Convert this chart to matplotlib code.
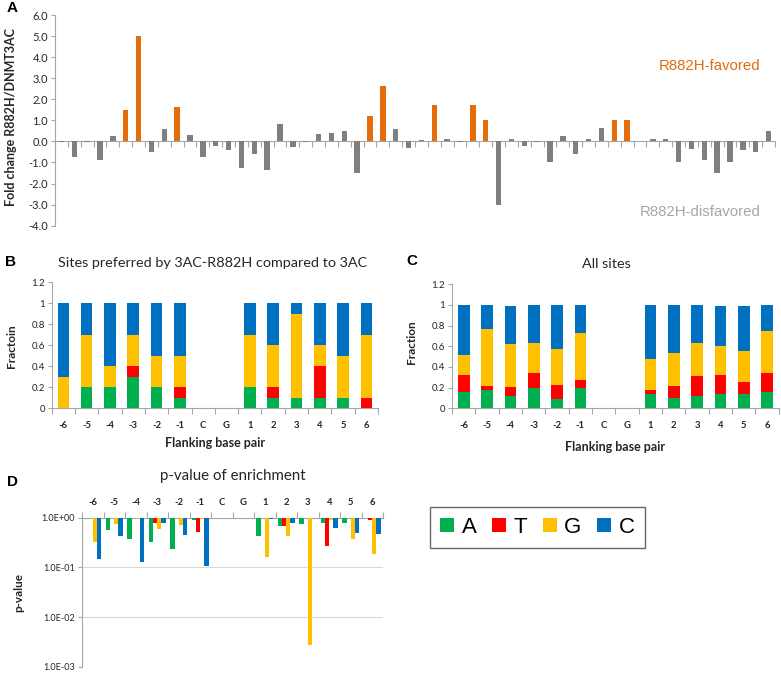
import numpy as np
import matplotlib
matplotlib.use('Agg')
import matplotlib.pyplot as plt
from matplotlib.patches import Patch

# ---------------- data ----------------
# Panel A: fold change R882H / DNMT3AC for 56 flanking sequences
fold_change = [-0.03, -0.75, -0.02, -0.87, 0.25, 1.5, 5.0, -0.5, 0.6, 1.65,
               0.3, -0.73, -0.2, -0.4, -1.25, -0.6, -1.35, 0.85, -0.25, -0.03,
               0.37, 0.4, 0.5, -1.5, 1.2, 2.65, 0.6, -0.32, 0.06, 1.72,
               0.13, -0.03, 1.72, 1.0, -3.0, 0.13, -0.2, -0.03, -1.0, 0.25,
               -0.6, 0.13, 0.65, 1.0, 1.0, 0.0, 0.13, 0.13, -1.0, -0.38,
               -0.87, -1.5, -1.0, -0.4, -0.5, 0.5]
favored = [0, 0, 0, 0, 0, 1, 1, 0, 0, 1,
           0, 0, 0, 0, 0, 0, 0, 0, 0, 0,
           0, 0, 0, 0, 1, 1, 0, 0, 0, 1,
           0, 0, 1, 1, 0, 0, 0, 0, 0, 0,
           0, 0, 0, 1, 1, 0, 0, 0, 0, 0,
           0, 0, 0, 0, 0, 0]
yticksA = [-4.0, -3.0, -2.0, -1.0, 0.0, 1.0, 2.0, 3.0, 4.0, 5.0, 6.0]

positions = ['-6', '-5', '-4', '-3', '-2', '-1', 'C', 'G', '1', '2', '3', '4', '5', '6']
bases = ['A', 'T', 'G', 'C']

# Panel B: sites preferred by 3AC-R882H
B_A = [0.0, 0.2, 0.2, 0.3, 0.2, 0.1, 0, 0, 0.2, 0.1, 0.1, 0.1, 0.1, 0.0]
B_T = [0.0, 0.0, 0.0, 0.1, 0.0, 0.1, 0, 0, 0.0, 0.1, 0.0, 0.3, 0.0, 0.1]
B_G = [0.3, 0.5, 0.2, 0.3, 0.3, 0.3, 0, 0, 0.5, 0.4, 0.8, 0.2, 0.4, 0.6]
B_C = [0.7, 0.3, 0.6, 0.3, 0.5, 0.5, 0, 0, 0.3, 0.4, 0.1, 0.4, 0.5, 0.3]

# Panel C: all sites
C_A = [0.16, 0.18, 0.12, 0.20, 0.09, 0.20, 0, 0, 0.14, 0.10, 0.12, 0.14, 0.14, 0.16]
C_T = [0.16, 0.04, 0.09, 0.14, 0.14, 0.07, 0, 0, 0.04, 0.12, 0.19, 0.18, 0.11, 0.18]
C_G = [0.20, 0.55, 0.41, 0.29, 0.34, 0.46, 0, 0, 0.30, 0.32, 0.32, 0.28, 0.30, 0.41]
C_C = [0.48, 0.23, 0.37, 0.37, 0.43, 0.27, 0, 0, 0.52, 0.46, 0.37, 0.39, 0.44, 0.25]

# Panel D: p-value of enrichment (1.0 = no bar)
D_A = [1.0, 0.57, 0.37, 0.32, 0.23, 0.90, 1.0, 1.0, 0.43, 0.69, 0.76, 0.79, 0.79, 1.0]
D_T = [1.0, 1.0, 1.0, 0.79, 1.0, 0.52, 1.0, 1.0, 1.0, 0.69, 1.0, 0.27, 1.0, 0.88]
D_G = [0.32, 0.75, 0.94, 0.58, 0.72, 0.93, 1.0, 1.0, 0.16, 0.42, 0.0027, 0.90, 0.37, 0.19]
D_C = [0.15, 0.43, 0.13, 0.79, 0.44, 0.105, 1.0, 1.0, 0.95, 0.78, 1.0, 0.61, 0.49, 0.47]

# ---------------- style ----------------
base_colors = ['#00B050', '#FF0000', '#FFC000', '#0070C0']
ORANGE = '#E46C0A'
GRAY = '#7F7F7F'
AXC = '#A6A6A6'
TXT = '#262626'
CAL = ['Lato', 'DejaVu Sans']
ARI = ['Liberation Sans', 'DejaVu Sans']

W, H = 781, 677
fig = plt.figure(figsize=(W / 100, H / 100), dpi=100)


def ax_px(l, t, r, b):
    return fig.add_axes([l / W, 1 - b / H, (r - l) / W, (b - t) / H])


def style_ticks(ax):
    for lab in ax.get_xticklabels(which='both') + ax.get_yticklabels():
        lab.set_fontfamily(CAL)


# ---------------- Panel A ----------------
axA = ax_px(55, 15, 775, 225.7)
xA = np.arange(len(fold_change))
colA = [ORANGE if f else GRAY for f in favored]
axA.bar(xA, fold_change, width=0.42, color=colA, zorder=3)
axA.set_xlim(-0.5, len(fold_change) - 0.5)
axA.set_ylim(-4, 6)
for s in ['top', 'right']:
    axA.spines[s].set_visible(False)
axA.spines['bottom'].set_position(('data', 0))
axA.spines['bottom'].set_color(AXC)
axA.spines['left'].set_color(AXC)
axA.set_xticks(np.arange(-0.5, len(fold_change), 1.0))
axA.tick_params(axis='x', length=4, color=AXC, labelbottom=False, direction='out')
axA.set_yticks(yticksA)
axA.set_yticklabels(['%.1f' % v for v in yticksA])
axA.tick_params(axis='y', length=3, color=AXC, labelsize=8, labelcolor=TXT, pad=2)
style_ticks(axA)
axA.set_ylabel('Fold change R882H/DNMT3AC', fontsize=9, fontweight='bold',
               family=CAL, color=TXT)
axA.yaxis.set_label_coords(-0.053, 0.518)
fig.text(710 / W, 1 - 66 / H, 'R882H-favored', color=ORANGE, fontsize=10.8,
         family=ARI, ha='center', va='center')
fig.text(700 / W, 1 - 212 / H, 'R882H-disfavored', color='#A6A6A6', fontsize=10.8,
         family=ARI, ha='center', va='center')


# ---------------- Panels B & C ----------------
def stacked(ax, vals, ylabel, ylab_xy, xlab_y):
    x = np.arange(len(positions))
    bottom = np.zeros(len(positions))
    for v, c in zip(vals, base_colors):
        v = np.array(v, dtype=float)
        ax.bar(x, v, bottom=bottom, width=0.5, color=c, zorder=3)
        bottom += v
    ax.set_xlim(-0.5, len(positions) - 0.5)
    ax.set_ylim(0, 1.2)
    for s in ['top', 'right']:
        ax.spines[s].set_visible(False)
    ax.spines['bottom'].set_color(AXC)
    ax.spines['left'].set_color(AXC)
    ax.set_xticks(np.arange(-0.5, len(positions), 1.0))
    ax.set_xticks(x, minor=True)
    ax.set_xticklabels([''] * (len(positions) + 1))
    ax.set_xticklabels(positions, minor=True)
    ax.tick_params(axis='x', which='major', length=4, color=AXC)
    ax.tick_params(axis='x', which='minor', length=0, pad=9, labelsize=6.8)
    for lab in ax.get_xticklabels(minor=True):
        lab.set_fontweight('bold')
        lab.set_color(TXT)
    yt = [0, 0.2, 0.4, 0.6, 0.8, 1.0, 1.2]
    ax.set_yticks(yt)
    ax.set_yticklabels(['0', '0.2', '0.4', '0.6', '0.8', '1', '1.2'])
    ax.tick_params(axis='y', length=3, color=AXC, labelsize=7, labelcolor=TXT, pad=2)
    style_ticks(ax)
    ax.set_ylabel(ylabel, fontsize=8.5, fontweight='bold', family=CAL, color=TXT)
    ax.yaxis.set_label_coords(*ylab_xy)
    ax.set_xlabel('Flanking base pair', fontsize=9, fontweight='bold', family=CAL,
                  color=TXT)
    ax.xaxis.set_label_coords(0.5, xlab_y)


axB = ax_px(51.7, 282.3, 378, 408.3)
stacked(axB, [B_A, B_T, B_G, B_C], 'Fractoin', (-0.106, 0.49), -0.228)
fig.text(213 / W, 1 - 263 / H, 'Sites preferred by 3AC-R882H compared to 3AC',
         fontsize=10.4, family=CAL, ha='center', va='center', color=TXT)

axC = ax_px(452, 284.3, 778.7, 408.3)
stacked(axC, [C_A, C_T, C_G, C_C], 'Fraction', (-0.107, 0.537), -0.264)
fig.text(606 / W, 1 - 264 / H, 'All sites', fontsize=10.4, family=CAL,
         ha='center', va='center', color=TXT)

# ---------------- Panel D ----------------
axD = ax_px(82, 517.7, 383, 666.7)
xD = np.arange(len(positions))
wD = 0.195
for k, (v, c) in enumerate(zip([D_A, D_T, D_G, D_C], base_colors)):
    v = np.array(v, dtype=float)
    axD.bar(xD + (k - 1.5) * wD, v - 1.0, bottom=1.0, width=wD, color=c, zorder=3)
axD.set_yscale('log')
axD.set_ylim(1e-3, 1)
axD.set_xlim(-0.5, len(positions) - 0.5)
for s in ['bottom', 'right']:
    axD.spines[s].set_visible(False)
axD.spines['top'].set_color(AXC)
axD.spines['left'].set_color(AXC)
axD.xaxis.tick_top()
axD.set_xticks(np.arange(-0.5, len(positions), 1.0))
axD.set_xticks(xD, minor=True)
axD.set_xticklabels([''] * (len(positions) + 1))
axD.set_xticklabels(positions, minor=True)
axD.tick_params(axis='x', which='major', length=4, color=AXC, top=True, bottom=False)
axD.tick_params(axis='x', which='minor', length=0, pad=8, labelsize=6.8, top=True,
                bottom=False, labeltop=True, labelbottom=False)
for lab in axD.get_xticklabels(minor=True):
    lab.set_fontweight('bold')
    lab.set_color(TXT)
ytD = [1e-3, 1e-2, 1e-1, 1.0]
axD.set_yticks(ytD)
axD.set_yticklabels(['1.0E-03', '1.0E-02', '1.0E-01', '1.0E+00'])
axD.yaxis.set_minor_locator(matplotlib.ticker.NullLocator())
axD.tick_params(axis='y', length=3, color=AXC, labelsize=6.5, labelcolor=TXT, pad=2)
axD.grid(axis='y', which='major', color='#D9D9D9', linewidth=0.8, zorder=0)
style_ticks(axD)
axD.set_ylabel('p-value', fontsize=8.5, fontweight='bold', family=CAL, color=TXT)
axD.yaxis.set_label_coords(-0.193, 0.5)
fig.text(233 / W, 1 - 476 / H, 'p-value of enrichment', fontsize=10.8, family=CAL,
         ha='center', va='center', color=TXT)

# legend
handles = [Patch(facecolor=c, edgecolor='none') for c in base_colors]
leg = fig.legend(handles, bases, loc='center', bbox_to_anchor=(537.5 / W, 1 - 527.5 / H),
                 ncol=4, frameon=True, fancybox=False, handlelength=0.63,
                 handleheight=0.63, handletextpad=0.32, columnspacing=0.72, borderpad=0.45,
                 prop={'family': ARI, 'size': 16})
leg.get_frame().set_edgecolor('#404040')
leg.get_frame().set_linewidth(1.0)

# panel letters
for lab, (px, py) in zip(['A', 'B', 'C', 'D'], [(12, 8), (10, 262), (412, 261), (12, 482)]):
    fig.text(px / W, 1 - py / H, lab, fontsize=11, fontweight='bold', family=ARI,
             ha='center', va='center')

fig.savefig('out.png', dpi=100)
